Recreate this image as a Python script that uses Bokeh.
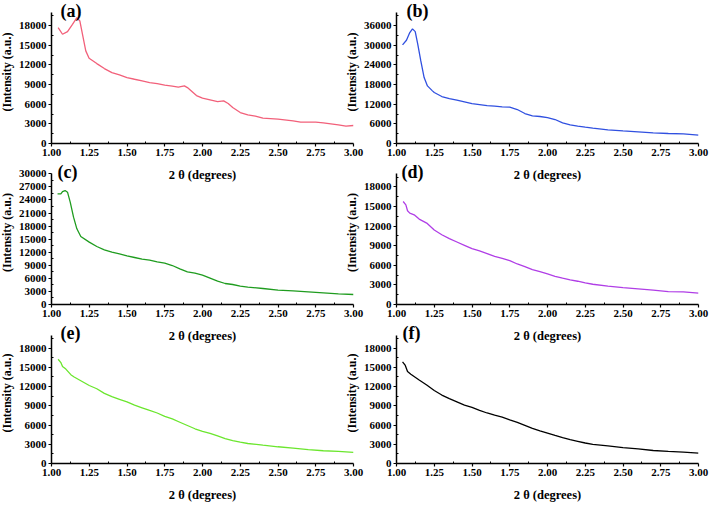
from bokeh.plotting import figure
from bokeh.layouts import row, column
from bokeh.models import FixedTicker, Label, Range1d, NumeralTickFormatter
from bokeh.embed import file_html
from bokeh.resources import INLINE

# ---------------- data ----------------
xa = [1.044, 1.073, 1.106, 1.139, 1.168, 1.188, 1.205, 1.227, 1.249, 1.30, 1.35, 1.40, 1.45, 1.50,
      1.55, 1.60, 1.65, 1.70, 1.75, 1.80, 1.84, 1.88, 1.90, 1.93, 1.96, 2.00, 2.05, 2.10, 2.14, 2.17,
      2.20, 2.25, 2.30, 2.35, 2.40, 2.50, 2.60, 2.65, 2.75, 2.80, 2.90, 2.95, 3.00]
ya = [17700, 16680, 17090, 18200, 19220, 18700, 16680, 14140, 13020, 12200, 11440, 10830, 10470, 10070,
      9810, 9560, 9310, 9150, 8900, 8750, 8600, 8800, 8540, 7930, 7320, 6920, 6660, 6400, 6510, 6100,
      5490, 4730, 4370, 4170, 3860, 3710, 3460, 3250, 3250, 3150, 2850, 2640, 2750]

xb = [1.04, 1.066, 1.088, 1.106, 1.124, 1.141, 1.161, 1.183, 1.205, 1.238, 1.25, 1.30, 1.35, 1.40,
      1.45, 1.50, 1.55, 1.60, 1.65, 1.70, 1.75, 1.80, 1.85, 1.90, 1.95, 2.00, 2.05, 2.10, 2.15, 2.20,
      2.25, 2.30, 2.40, 2.50, 2.60, 2.70, 2.80, 2.90, 3.00]
yb = [30100, 31530, 33870, 34990, 34170, 30300, 25220, 20140, 17590, 16070, 15560, 14340, 13730, 13220,
      12710, 12200, 11900, 11590, 11390, 11190, 11080, 10370, 9150, 8440, 8240, 7930, 7320, 6310, 5700, 5290,
      4980, 4680, 4170, 3860, 3560, 3250, 3050, 2950, 2540]

xc = [1.04, 1.062, 1.073, 1.09, 1.106, 1.124, 1.146, 1.168, 1.194, 1.25, 1.30, 1.35, 1.40, 1.45, 1.50,
      1.55, 1.60, 1.65, 1.70, 1.75, 1.80, 1.85, 1.90, 1.95, 2.00, 2.05, 2.10, 2.15, 2.20, 2.25, 2.30,
      2.40, 2.50, 2.60, 2.70, 2.80, 2.90, 3.00]
yc = [25400, 25400, 25930, 26160, 25780, 23490, 20040, 17370, 15610, 14310, 13310, 12550, 12010, 11630, 11170,
      10790, 10400, 10170, 9790, 9490, 8950, 8190, 7500, 7190, 6730, 6040, 5350, 4820, 4590, 4210, 3980,
      3670, 3290, 3140, 2910, 2680, 2450, 2300]

xd = [1.044, 1.062, 1.073, 1.088, 1.117, 1.15, 1.20, 1.25, 1.30, 1.35, 1.40, 1.45, 1.50, 1.55, 1.60,
      1.65, 1.70, 1.75, 1.80, 1.85, 1.90, 1.95, 2.00, 2.05, 2.10, 2.15, 2.20, 2.25, 2.30, 2.40, 2.50,
      2.60, 2.70, 2.80, 2.90, 3.00]
yd = [15760, 15250, 14340, 13980, 13730, 13070, 12460, 11390, 10680, 10070, 9560, 9050, 8540, 8190, 7780,
      7370, 7070, 6710, 6200, 5800, 5340, 5030, 4680, 4320, 4020, 3760, 3560, 3310, 3100, 2800, 2590,
      2390, 2190, 1980, 1930, 1730]

xe = [1.044, 1.062, 1.073, 1.095, 1.128, 1.15, 1.20, 1.25, 1.30, 1.35, 1.40, 1.45, 1.50, 1.55, 1.60,
      1.65, 1.70, 1.75, 1.80, 1.85, 1.90, 1.95, 2.00, 2.05, 2.10, 2.15, 2.20, 2.25, 2.30, 2.40, 2.50,
      2.60, 2.70, 2.80, 2.90, 3.00]
ye = [16260, 15750, 15140, 14730, 13860, 13500, 12840, 12170, 11660, 10940, 10430, 10020, 9610, 9100, 8690,
      8280, 7880, 7360, 6950, 6440, 5930, 5420, 5010, 4700, 4300, 3890, 3580, 3320, 3120, 2860, 2610,
      2400, 2150, 1990, 1890, 1740]

xf = [1.04, 1.057, 1.073, 1.095, 1.15, 1.20, 1.25, 1.30, 1.35, 1.40, 1.45, 1.50, 1.55, 1.60, 1.65,
      1.70, 1.75, 1.80, 1.85, 1.90, 1.95, 2.00, 2.05, 2.10, 2.15, 2.20, 2.25, 2.30, 2.40, 2.50, 2.60,
      2.70, 2.80, 2.90, 3.00]
yf = [15870, 15360, 14340, 13930, 13020, 12250, 11390, 10680, 10120, 9610, 9100, 8750, 8290, 7880, 7530,
      7220, 6810, 6410, 5950, 5490, 5090, 4730, 4370, 4020, 3710, 3460, 3200, 3000, 2750, 2490, 2290,
      2030, 1880, 1780, 1630]

x_ticks = [1.00, 1.25, 1.50, 1.75, 2.00, 2.25, 2.50, 2.75, 3.00]
panel_labels = ["(a)", "(b)", "(c)", "(d)", "(e)", "(f)"]
y_maxes = [20000, 40000, 30000, 20000, 20000, 20000]
y_steps = [3000, 6000, 3000, 3000, 3000, 3000]
y_top_ticks = [18000, 36000, 30000, 18000, 18000, 18000]
colors = ["#f2607a", "#3050e0", "#1f9c1f", "#b03ee6", "#6be62e", "#000000"]
label_x = [1.06, 1.066, 1.04, 1.033, 1.06, 1.04]

series = [(xa, ya), (xb, yb), (xc, yc), (xd, yd), (xe, ye), (xf, yf)]

FONT = "Liberation Serif"
BORDER_LEFT = 60


def make_panel(i, width, height, bottom, right, head_ratio):
    xs, ys = series[i]
    ymax = y_maxes[i]
    p = figure(width=width, height=height, output_backend="svg", toolbar_location=None,
               x_range=Range1d(1.0, 3.0), y_range=Range1d(0, ymax * head_ratio),
               min_border_left=BORDER_LEFT, min_border_right=right, min_border_top=0,
               min_border_bottom=bottom)
    p.background_fill_color = None
    p.border_fill_color = None
    p.outline_line_color = None
    p.grid.visible = False
    p.line(xs, ys, line_color=colors[i], line_width=1.3)

    step = y_steps[i]
    yt = list(range(0, y_top_ticks[i] + 1, step))
    ymin_t = [v + step / 2 for v in yt if v + step / 2 < ymax]
    p.yaxis.ticker = FixedTicker(ticks=yt, minor_ticks=ymin_t)
    p.yaxis.bounds = (0, ymax)
    xmin_t = [x_ticks[k] + 0.125 for k in range(len(x_ticks) - 1)]
    p.xaxis.ticker = FixedTicker(ticks=x_ticks, minor_ticks=xmin_t)
    p.xaxis.formatter = NumeralTickFormatter(format="0.00")
    p.yaxis.formatter = NumeralTickFormatter(format="0")

    for ax in (p.xaxis, p.yaxis):
        ax.axis_line_color = "black"
        ax.axis_line_width = 1.5
        ax.major_tick_line_color = "black"
        ax.major_tick_line_width = 1.2
        ax.minor_tick_line_color = "black"
        ax.minor_tick_line_width = 1
        ax.major_tick_out = 3
        ax.major_tick_in = 0
        ax.minor_tick_out = 0
        ax.minor_tick_in = 2
        ax.major_label_text_font = FONT
        ax.major_label_text_font_style = "bold"
        ax.major_label_text_font_size = "11px"
        ax.major_label_text_color = "black"
        ax.axis_label_text_font = FONT
        ax.axis_label_text_font_style = "bold"
        ax.axis_label_text_color = "black"
    p.yaxis.major_label_standoff = 2
    p.xaxis.major_label_standoff = 2
    p.yaxis.axis_label = "(Intensity (a.u.)"
    p.yaxis.axis_label_text_font_size = "12px"
    p.yaxis.axis_label_standoff = 2
    p.xaxis.axis_label = "2 \u03b8 (degrees)"
    p.xaxis.axis_label_text_font_size = "12.5px"
    p.xaxis.axis_label_standoff = 9

    lab = Label(x=label_x[i], y=ymax, y_offset=2, text=panel_labels[i], text_font=FONT,
                text_font_style="bold", text_font_size="18px", text_color="black",
                text_baseline="middle", text_align="left")
    p.add_layout(lab)
    return p

# row 1: frame 0..143 px, value top at 12 px
r1_ratio = 143 / 131
# row 2: frame 160..304, value top at 173.3
r2_ratio = 144 / 130.7
# row 3: frame 322..465, value top at 335
r3_ratio = 143 / 130

LW = BORDER_LEFT + 302 + 12
RW = BORDER_LEFT + 302 + 11

pa = make_panel(0, LW, 185, 42, 12, r1_ratio)
pb = make_panel(1, RW, 185, 42, 11, r1_ratio)
pc = make_panel(2, LW, 186, 42, 12, r2_ratio)
pd = make_panel(3, RW, 186, 42, 11, r2_ratio)
pe = make_panel(4, LW, 182, 39, 12, r3_ratio)
pf = make_panel(5, RW, 182, 39, 11, r3_ratio)

for q in (pb, pd, pf):
    q.margin = (0, 0, 0, -29)

r1 = row(pa, pb)
r2 = row(pc, pd)
r3 = row(pe, pf)
r2.margin = (-25, 0, 0, 0)
r3.margin = (-24, 0, 0, 0)
layout = column(r1, r2, r3)
layout.margin = (0, 0, 0, -9)

open("out.html", "w").write(file_html(layout, INLINE))
